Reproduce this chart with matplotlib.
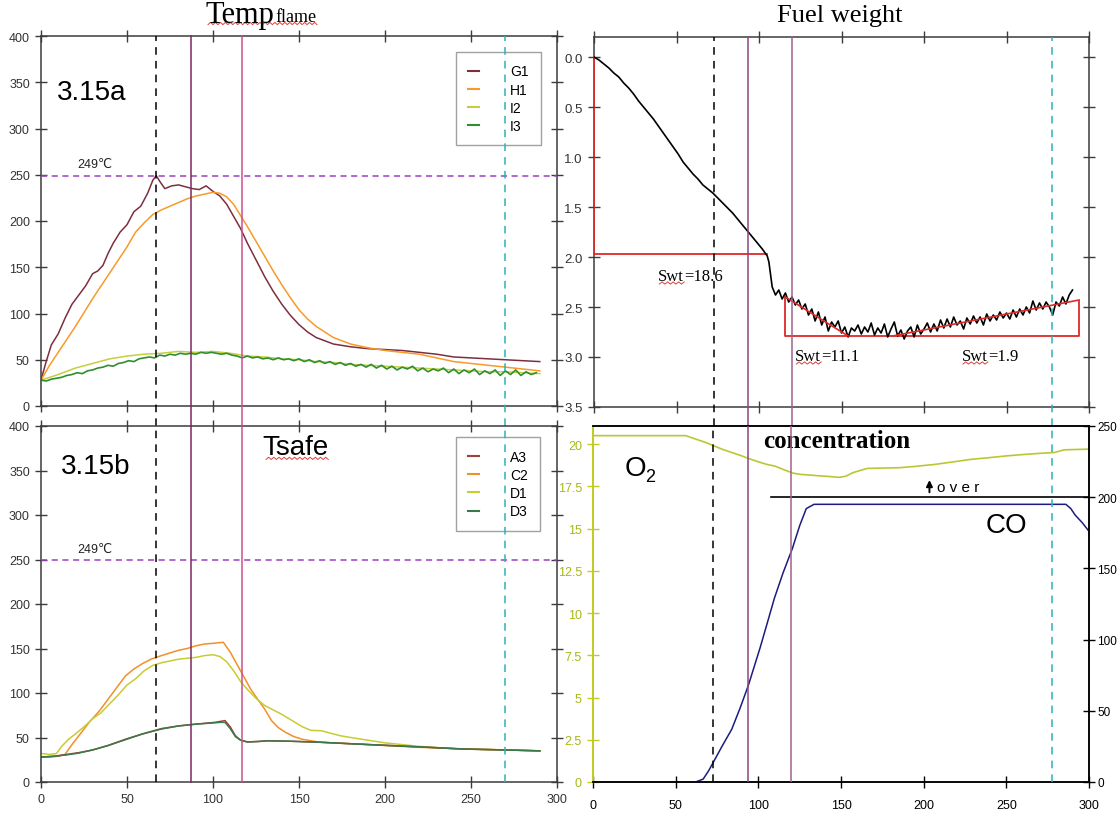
import numpy as np
import matplotlib
matplotlib.use("Agg")
import matplotlib.pyplot as plt
from matplotlib.lines import Line2D
from matplotlib.transforms import IdentityTransform

SANS = ["Liberation Sans", "DejaVu Sans"]
NARROW = ["Liberation Sans Narrow", "Liberation Sans", "DejaVu Sans"]
SERIF = ["Liberation Serif", "DejaVu Serif"]
plt.rcParams["font.family"] = SANS

# ---------------- 3.15a : flame temperatures (deg C) ----------------
g1_t = [0, 3, 6, 10, 14, 18, 22, 26, 30, 33, 36, 39, 42, 46, 50, 54, 58, 62, 65, 67,
        69, 72, 76, 80, 84, 88, 92, 96, 100, 104, 108, 112, 116, 120, 125, 130, 135, 140, 145, 150,
        155, 160, 170, 180, 190, 200, 210, 220, 230, 240, 250, 260, 270, 280, 290]
g1_v = [28, 48, 66, 78, 95, 110, 120, 130, 143, 146, 152, 165, 176, 188, 196, 210, 216, 230, 244, 249,
        243, 235, 238, 239, 237, 235, 234, 238, 232, 227, 218, 205, 192, 176, 158, 140, 124, 110, 98, 88,
        80, 74, 67, 64, 62, 61, 60, 58, 56, 53, 52, 51, 50, 49, 48]

h1_t = [0, 5, 10, 15, 20, 25, 30, 35, 40, 45, 50, 55, 60, 65, 70, 75, 80, 85, 90, 95,
        100, 104, 108, 112, 116, 120, 125, 130, 135, 140, 145, 150, 155, 160, 170, 180, 190, 200, 210, 220,
        230, 240, 250, 260, 270, 280, 290]
h1_v = [28, 44, 58, 72, 86, 101, 116, 130, 144, 158, 172, 188, 198, 207, 212, 216, 220, 224, 227, 229,
        231, 230, 226, 218, 206, 194, 178, 162, 146, 131, 117, 104, 94, 86, 74, 67, 63, 60, 58, 56,
        52, 48, 46, 44, 42, 40, 38]

i2_t = [0, 10, 20, 30, 40, 50, 60, 70, 80, 90, 100, 110, 120, 130, 140,
        150, 160, 170, 180, 190, 200, 210, 220, 230, 240, 250, 260, 270, 280, 290]
i2_v = [28, 34, 41, 46, 51, 54, 56, 57, 59, 58, 59, 57, 54, 53, 51,
        50, 48, 47, 45, 44, 43, 42, 41, 40, 39, 38, 37, 37, 36, 35]

i3_t = list(range(0, 289, 3))
i3_v = [28, 27, 29, 30, 31, 33, 34, 36, 35, 38,
        39, 41, 42, 44, 43, 46, 47, 49, 48, 51,
        52, 53, 52, 55, 54, 56, 55, 57, 56, 57,
        56, 58, 57, 58, 57, 56, 57, 55, 54, 52,
        54, 52, 53, 51, 52, 50, 52, 50, 51, 49,
        51, 48, 50, 47, 49, 46, 48, 45, 47, 44,
        46, 43, 45, 42, 45, 41, 44, 40, 43, 39,
        42, 40, 43, 38, 41, 37, 40, 38, 41, 36,
        40, 35, 39, 36, 40, 34, 38, 35, 39, 33,
        38, 34, 39, 33, 37, 34, 36]

# ---------------- 3.15b : Tsafe (deg C) ----------------
a3_t = [0, 8, 15, 22, 30, 39, 49, 59, 70, 80, 90, 101, 104, 107, 110, 113, 116, 120, 126, 132,
        145, 163, 185, 205, 225, 246, 270, 290]
a3_v = [28, 29, 31, 33, 36, 41, 48, 54, 60, 63, 65, 67, 68, 69, 62, 52, 47, 45, 45.5, 46.4,
        45.8, 44.6, 42.5, 40.8, 39, 37, 36, 35]
d3_v = [28, 29, 30.5, 32.5, 36, 41, 47.5, 54, 59.5, 63, 65, 66.5, 67, 67, 60, 51, 47, 45, 45.5, 46.2,
        45.8, 44.6, 42.5, 40.8, 39, 37, 36, 35]

c2_t = [0, 5, 10, 14, 18, 22, 28, 34, 39, 44, 49, 54, 59, 64, 70, 75, 80, 85, 90, 95,
        101, 106, 110, 114, 118, 122, 126, 130, 134, 138, 142, 147, 152, 158, 163, 175, 185, 200, 220, 240,
        260, 280, 290]
c2_v = [28, 28, 29, 31, 42, 52, 67, 80, 93, 106, 119, 127, 133, 138, 142, 145, 148, 150, 153, 155,
        156, 157, 146, 132, 118, 104, 93, 82, 69, 61, 56, 51, 48, 46, 44.6, 43.5, 42.7, 41, 39, 37.5,
        36.5, 35.5, 35]

d1_t = [0, 5, 9, 12, 16, 20, 25, 30, 35, 40, 45, 50, 55, 60, 65, 70, 75, 80, 85, 90,
        95, 100, 104, 108, 112, 116, 120, 125, 130, 135, 140, 146, 152, 157, 163, 168, 174, 180, 190, 200,
        220, 240, 260, 280, 290]
d1_v = [32, 31, 32, 40, 48, 54, 62, 71, 78, 88, 98, 109, 116, 125, 131, 134, 136, 138, 139, 140,
        142, 143, 141, 135, 125, 113, 104, 94, 86, 81, 76, 69, 62, 58, 57.6, 55, 52, 50, 47, 44,
        40, 37.5, 36.5, 35.5, 35]

# ---------------- fuel weight loss (kg) ----------------
fw_t = list(range(0, 106, 3)) + list(range(106, 291, 2))
fw_v = [0.00, 0.03, 0.07, 0.11, 0.16, 0.20, 0.26, 0.31, 0.37, 0.44,
        0.50, 0.56, 0.62, 0.69, 0.76, 0.83, 0.90, 0.97, 1.05, 1.11,
        1.17, 1.22, 1.28, 1.32, 1.36, 1.41, 1.46, 1.51, 1.56, 1.62,
        1.68, 1.74, 1.80, 1.86, 1.92, 1.99,
        2.05, 2.30, 2.38, 2.33, 2.42, 2.36, 2.45, 2.40, 2.48, 2.43,
        2.52, 2.47, 2.58, 2.52, 2.64, 2.55, 2.68, 2.60, 2.74, 2.65,
        2.70, 2.64, 2.76, 2.70, 2.80, 2.71, 2.74, 2.68, 2.77, 2.70,
        2.75, 2.66, 2.78, 2.71, 2.76, 2.67, 2.80, 2.72, 2.65, 2.79,
        2.73, 2.82, 2.74, 2.70, 2.80, 2.68, 2.77, 2.72, 2.66, 2.75,
        2.67, 2.74, 2.63, 2.71, 2.62, 2.70, 2.60, 2.68, 2.64, 2.72,
        2.61, 2.67, 2.59, 2.66, 2.60, 2.68, 2.57, 2.64, 2.58, 2.63,
        2.55, 2.61, 2.56, 2.62, 2.53, 2.60, 2.52, 2.58, 2.50, 2.56,
        2.44, 2.53, 2.46, 2.52, 2.45, 2.50, 2.58, 2.45, 2.49, 2.40,
        2.47, 2.38, 2.33]

# burning-rate construction lines and slopes
rate1_x, rate1_y = [0, 0, 105], [0, 1.97, 1.97]
box_x, box_y = [116, 116, 294, 294], [2.40, 2.79, 2.79, 2.44]
rate2_x, rate2_y = [116, 154], [2.40, 2.79]
rate3_x, rate3_y = [181, 294], [2.79, 2.43]
swt_prefix = "Swt"
swt_values = ["=18.6", "=11.1", "=1.9"]

# ---------------- gas concentration ----------------
o2_t = [0, 20, 40, 56, 62, 68, 73, 78, 84, 90, 94, 100, 105, 110, 115, 121, 126, 131, 137, 143,
        149, 153, 157, 162, 166, 175, 185, 195, 207, 218, 229, 240, 250, 260, 270, 279, 285, 292, 300]
o2_v = [20.5, 20.5, 20.5, 20.5, 20.3, 20.1, 19.9, 19.7, 19.5, 19.3, 19.15, 18.95, 18.8, 18.7, 18.5,
        18.28, 18.2, 18.17, 18.12, 18.08, 18.03, 18.1, 18.3, 18.45, 18.56, 18.58, 18.6, 18.68, 18.8,
        18.95, 19.1, 19.2, 19.3, 19.38, 19.45, 19.5, 19.66, 19.68, 19.7]
co_t = [0, 62, 66.6, 70, 73.3, 78, 83.9, 89, 94, 101, 105, 109.7, 115, 120.6, 125, 129, 133.7,
        160, 200, 240, 286, 289, 291.6, 296, 300]
co_v = [0, 0, 2, 8, 15, 25, 37, 52, 68, 94, 110, 129, 147, 164, 180, 192, 195,
        195, 195, 195, 195, 192, 187.5, 182, 176]
co_limit = 200

# event times (s) and temperature criterion
left_events = [67, 87, 117, 270]
right_events = [72.5, 93.5, 120, 277.5]
t_limit = 249

# ---------------- figure ----------------
W, H = 1117, 820
fig = plt.figure(figsize=(W / 100, H / 100), dpi=100)


def rect(l, t, r, b):
    return [l / W, 1 - b / H, (r - l) / W, (b - t) / H]


ax_a = fig.add_axes(rect(41, 37, 557, 407))
ax_b = fig.add_axes(rect(41, 427, 557, 783))
ax_w = fig.add_axes(rect(594, 38, 1089, 408))
ax_c = fig.add_axes(rect(593, 427, 1089, 783))
ax_co = ax_c.twinx()

SPINE = "#3c3c3c"


def frame(ax):
    for s in ax.spines.values():
        s.set_color(SPINE)
        s.set_linewidth(1.1)
    ax.tick_params(direction="inout", length=9, width=1.0, color=SPINE,
                   labelcolor="#333333", labelsize=9, top=True, right=True)
    ax.set_xlim(0, 300)
    ax.set_xticks(range(0, 301, 50))


left_styles = [dict(color="black", ls=(0, (5, 4))), dict(color="#7b2a62"),
               dict(color="#cc4f8e"), dict(color="#2bb3b8", ls=(0, (5, 4)))]
right_styles = [dict(color="black", ls=(0, (5, 4))), dict(color="#8c4680"),
                dict(color="#a0628f"), dict(color="#2bb3b8", ls=(0, (5, 4)))]

# temperature panels
for ax, gap in ((ax_a, 20 / 370), (ax_b, 0)):
    frame(ax)
    ax.set_ylim(0, 400)
    ax.set_yticks(range(0, 401, 50))
    ax.axhline(t_limit, color="#9a40c0", ls=(0, (4, 3)), lw=1.1, zorder=3)
    ax.text(21, t_limit + 13, "249\u2103", fontsize=9, color="#222222", va="center",
            family=SANS)
    for x, st in zip(left_events, left_styles):
        ax.axvline(x, ymin=-gap, ymax=1, lw=1.1, clip_on=False, zorder=6, **st)
ax_a.tick_params(labelbottom=False)

ax_a.plot(g1_t, g1_v, color="#7d2f3f", lw=1.1)
ax_a.plot(h1_t, h1_v, color="#f99a28", lw=1.1)
ax_a.plot(i2_t, i2_v, color="#c4cf3c", lw=1.1)
ax_a.plot(i3_t, i3_v, color="#2f8f2f", lw=1.2)

ax_b.plot(c2_t, c2_v, color="#f0902a", lw=1.1)
ax_b.plot(d1_t, d1_v, color="#c8cc30", lw=1.1)
ax_b.plot(a3_t, a3_v, color="#a0403a", lw=1.1)
ax_b.plot(a3_t, d3_v, color="#3a7a4a", lw=1.1)


def legend(ax, names, colors, anchor):
    handles = [Line2D([], [], color=c, lw=1.5) for c in colors]
    leg = ax.legend(handles, names, loc="upper left", bbox_to_anchor=anchor,
                    frameon=True, fancybox=False, edgecolor="#8a8a8a", fontsize=10,
                    handlelength=0.8, handletextpad=2.2, borderpad=0.9, labelspacing=0.3,
                    borderaxespad=0)
    leg.get_frame().set_linewidth(1.0)
    leg.set_zorder(4)


legend(ax_a, ["G1", "H1", "I2", "I3"], ["#7d2f3f", "#f99a28", "#c4cf3c", "#2f8f2f"],
       (0.804, 0.957))
legend(ax_b, ["A3", "C2", "D1", "D3"], ["#a0403a", "#f0902a", "#c8cc30", "#3a7a4a"],
       (0.804, 0.968))

ax_a.text(9.3, 339, "3.15a", fontsize=20, va="center", color="black")
ax_b.text(11.6, 355, "3.15b", fontsize=20, va="center", color="black")
t_safe = ax_b.text(128.5, 376, "Tsafe", fontsize=20, va="center", color="black")

t_temp = fig.text(206 / W, 1 - 16 / H, "Temp", fontsize=22, family=SERIF, va="center")
t_flame = fig.text(0, 0, "flame", fontsize=13, family=SERIF, va="bottom")
fig.text(840 / W, 1 - 16 / H, "Fuel weight", fontsize=19, family=SERIF,
         ha="center", va="center")

# fuel weight panel
frame(ax_w)
ax_w.set_ylim(3.5, -0.2)
ax_w.set_yticks(np.arange(0, 3.51, 0.5))
ax_w.set_yticklabels([f"{v:.1f}" for v in np.arange(0, 3.51, 0.5)])
ax_w.tick_params(labelbottom=False, labelsize=9.5)
for x, st in zip(right_events, right_styles):
    ax_w.axvline(x, ymin=-19 / 370, ymax=1, lw=1.1, clip_on=False, zorder=6, **st)
RED = "#dd2a2a"
ax_w.plot(rate1_x, rate1_y, color=RED, lw=1.3, zorder=3)
ax_w.plot(box_x, box_y, color=RED, lw=1.3, zorder=3)
ax_w.plot(fw_t, fw_v, color="black", lw=1.2, zorder=4)
ax_w.plot(rate2_x, rate2_y, color=RED, lw=1.2, zorder=5)
ax_w.plot(rate3_x, rate3_y, color=RED, lw=1.2, zorder=5)

swt_texts = []
for (x, y), val in zip([(39, 2.19), (122, 2.99), (223, 2.99)], swt_values):
    t = ax_w.text(x, y, swt_prefix, fontsize=12, family=SERIF, va="center")
    ax_w.annotate(val, xy=(1, 0), xycoords=t, ha="left", va="bottom",
                  fontsize=12, family=SERIF)
    swt_texts.append(t)

# concentration panel
for s in ax_c.spines.values():
    s.set_color("black")
    s.set_linewidth(1.1)
ax_c.spines["left"].set_color("#c0cc20")
ax_c.spines["left"].set_linewidth(1.4)
ax_c.set_xlim(0, 300)
ax_c.set_xticks(range(0, 301, 50))
ax_c.set_ylim(0, 21.07)
o2_ticks = [0, 2.5, 5, 7.5, 10, 12.5, 15, 17.5, 20]
ax_c.set_yticks(o2_ticks)
ax_c.set_yticklabels(["0", "2.5", "5", "7.5", "10", "12.5", "15", "17.5", "20"],
                     family=NARROW)
ax_c.tick_params(axis="y", direction="inout", length=9, width=1.0, color="#c0cc20",
                 labelcolor="#a8b818", labelsize=9)
ax_c.set_xticklabels([str(v) for v in range(0, 301, 50)], family=NARROW)
ax_c.tick_params(axis="x", direction="inout", length=9, width=1.0, color="black",
                 labelcolor="black", labelsize=9, pad=8)
ax_c.plot(o2_t, o2_v, color="#b9c832", lw=1.2)

ax_co.set_ylim(0, 250)
ax_co.set_yticks(range(0, 251, 50))
ax_co.set_yticklabels([str(v) for v in range(0, 251, 50)], family=NARROW)
ax_co.tick_params(axis="y", direction="inout", length=9, width=1.0, color="black",
                  labelcolor="black", labelsize=8.5, pad=1.5)
ax_co.spines["left"].set_visible(False)
for s in ("right", "top", "bottom"):
    ax_co.spines[s].set_color("black")
    ax_co.spines[s].set_linewidth(1.1)
ax_co.plot(co_t, co_v, color="#1c1c80", lw=1.1)
ax_co.plot([107.7, 300], [co_limit, co_limit], color="black", lw=1.2)
for x, st in zip(right_events, right_styles):
    ax_co.axvline(x, lw=1.1, zorder=6, **st)

ax_co.text(147.6, 240, "concentration", fontsize=18, family=SERIF, weight="bold",
           ha="center", va="center")
t_o = ax_c.text(19, 18.6, "O", fontsize=20, va="center")
ax_c.annotate("2", xy=(1, 0), xycoords=t_o, xytext=(-0.5, -3), textcoords="offset points",
              ha="left", va="bottom", fontsize=13)
ax_co.text(237.6, 180.5, "CO", fontsize=20, va="center")
ax_co.annotate("", xy=(203.5, 214), xytext=(203.5, 201.5),
               arrowprops=dict(arrowstyle="-|>", color="black", lw=1.4, mutation_scale=9))
ax_co.text(208, 207.5, "o v e r", fontsize=11, va="center", family=SANS)

# place the subscript of the flame title
fig.canvas.draw()
r = fig.canvas.get_renderer()
bb = t_temp.get_window_extent(r)
t_flame.set_position(((bb.x1 + 1) / W, (bb.y0 + 5) / H))
fig.canvas.draw()


def squiggle(x0, x1, y):
    n = max(int((x1 - x0) / 2.4), 2)
    xs = np.linspace(x0, x1, n)
    ys = y + np.where(np.arange(n) % 2 == 0, -1.1, 1.1)
    fig.add_artist(Line2D(xs, ys, transform=IdentityTransform(), color="#e0403c", lw=0.7))


bf = t_flame.get_window_extent(r)
squiggle(bb.x0 + 2, bf.x1, bf.y0 + 1)
bs = t_safe.get_window_extent(r)
squiggle(bs.x0 + 4, bs.x1, bs.y0 + 2)
for t in swt_texts:
    b = t.get_window_extent(r)
    squiggle(b.x0 + 1, b.x1, b.y0 + 1)

fig.savefig("out.png", dpi=100)
